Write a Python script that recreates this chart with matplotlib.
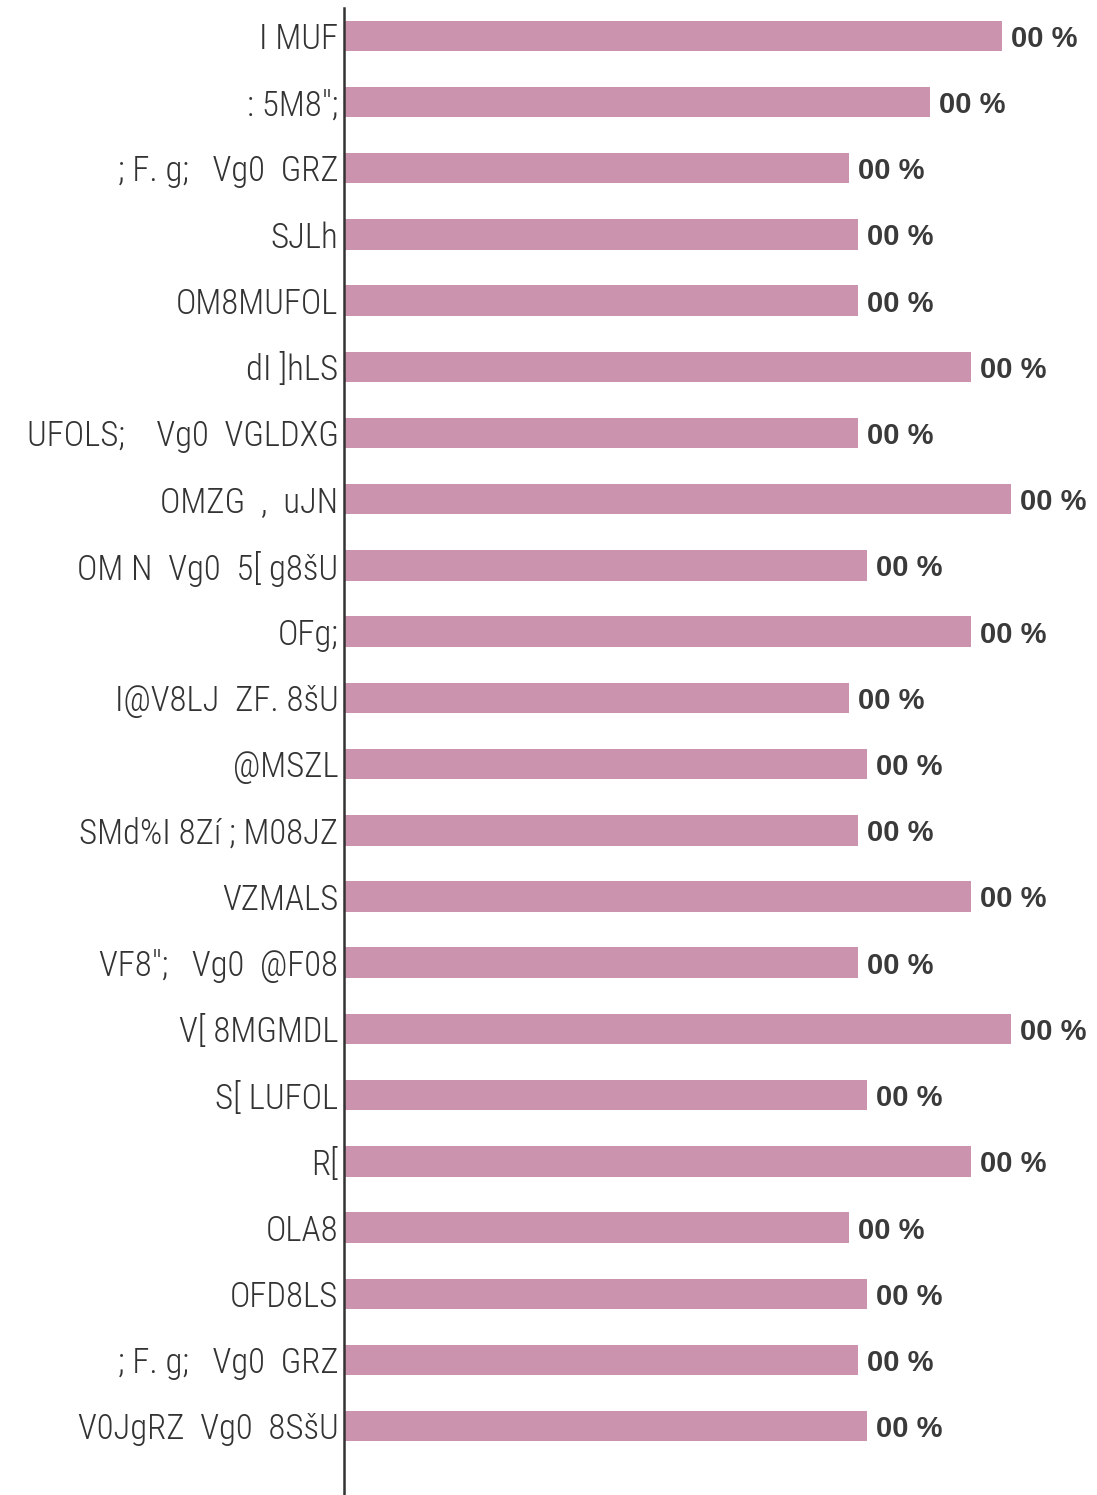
import matplotlib
matplotlib.use("Agg")
import matplotlib.pyplot as plt
from matplotlib.font_manager import FontProperties
import numpy as np

categories = [
    "I MUF", ": 5M8\";", "; F. g;   Vg0  GRZ", "SJLh", "OM8MUFOL", "dI ]hLS",
    "UFOLS;    Vg0  VGLDXG", "OMZG  ,  uJN", "OM N  Vg0  5[ g8šU", "OFg;",
    "I@V8LJ  ZF. 8šU", "@MSZL", "SMd%I 8Zí ; M08JZ", "VZMALS",
    "VF8\";   Vg0  @F08", "V[ 8MGMDL", "S[ LUFOL", "R[", "OLA8", "OFD8LS",
    "; F. g;   Vg0  GRZ", "V0JgRZ  Vg0  8SšU",
]
values = [73, 65, 56, 57, 57, 69.5, 57, 74, 58, 69.5, 56, 58, 57, 69.5,
          57, 74, 58, 69.5, 56, 58, 57, 58]
value_labels = ["00 %"] * len(values)

fig = plt.figure(figsize=(10.97, 14.95), dpi=100)
ax = fig.add_axes([344 / 1097, 0, (1094 - 344) / 1097, 1 - 8 / 1495])

y = np.arange(len(categories))
ax.barh(y, values, height=0.46, color="#cc93ae")
ax.set_ylim(len(categories) - 1 + 1.04, -0.42)
ax.set_xlim(0, 750 / 9.02)

# value labels just right of each bar
for yi, v, lab in zip(y, values, value_labels):
    ax.annotate(lab, (v, yi), xytext=(9, -3), textcoords="offset pixels",
                va="center", ha="left", fontsize=21, fontweight="bold",
                family="Liberation Sans", color="#3a3a3a")

tick_font = FontProperties(family="Roboto Condensed", stretch="condensed", weight=300, size=25)
ax.set_yticks(y)
ax.set_yticklabels(categories, fontproperties=tick_font, color="#333333")
ax.tick_params(axis="y", length=0, pad=4)
ax.set_xticks([])
for s in ["top", "right", "bottom"]:
    ax.spines[s].set_visible(False)
ax.spines["left"].set_color("#333333")
ax.spines["left"].set_linewidth(1.8)

fig.savefig("out.png", dpi=100)
